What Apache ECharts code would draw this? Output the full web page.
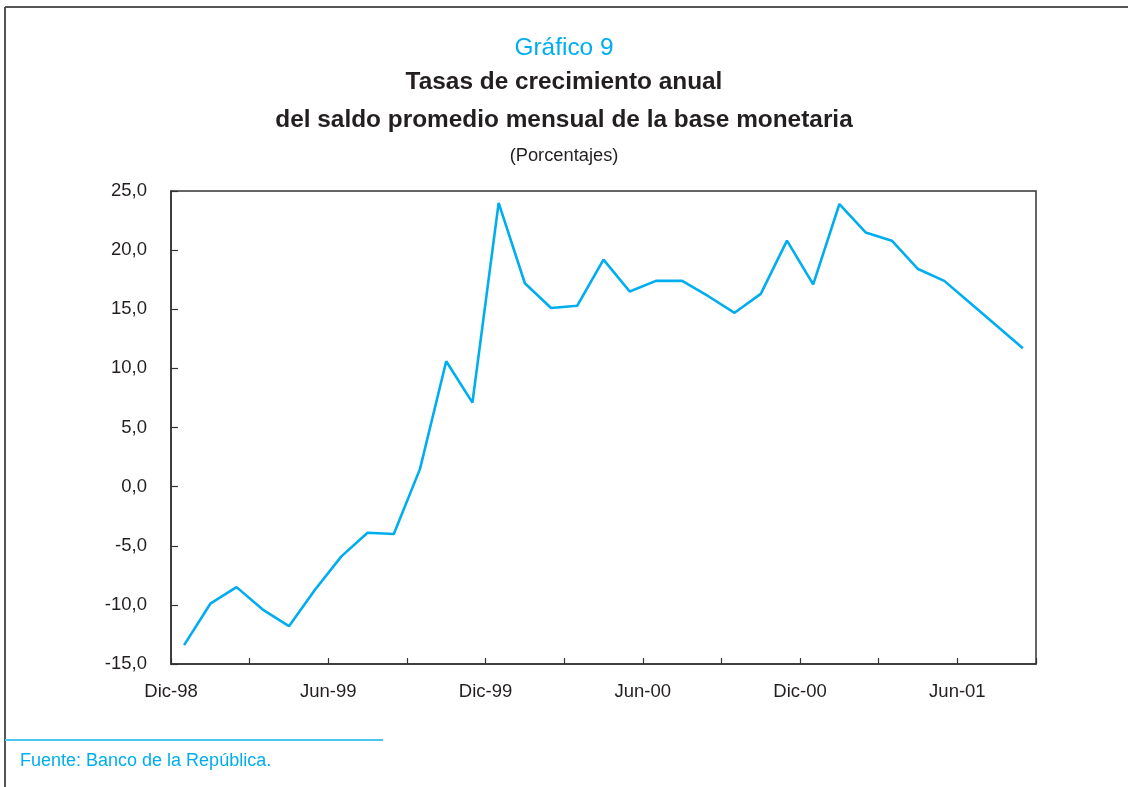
<!DOCTYPE html>
<html>
<head>
<meta charset="utf-8">
<script src="https://cdn.jsdelivr.net/npm/echarts@6/dist/echarts.min.js"></script>
<style>
html,body{margin:0;padding:0;background:#fff;}
#chart{width:1128px;height:787px;}
</style>
</head>
<body>
<div id="chart"></div>
<script>
// Months (Dic-98 .. Ago-01)
const months = ['Dic-98','Ene-99','Feb-99','Mar-99','Abr-99','May-99','Jun-99','Jul-99','Ago-99','Sep-99','Oct-99','Nov-99',
  'Dic-99','Ene-00','Feb-00','Mar-00','Abr-00','May-00','Jun-00','Jul-00','Ago-00','Sep-00','Oct-00','Nov-00',
  'Dic-00','Ene-01','Feb-01','Mar-01','Abr-01','May-01','Jun-01','Jul-01','Ago-01'];
// Annual growth rate of monthly average monetary base (%)
const values = [-13.4,-9.9,-8.5,-10.4,-11.8,-8.7,-5.9,-3.9,-4.0,1.5,10.6,7.1,
  24.0,17.2,15.1,15.3,19.2,16.5,17.4,17.4,16.1,14.7,16.3,20.8,
  17.1,23.9,21.5,20.8,18.4,17.4,15.5,13.6,11.7];
const yTicks = [-15,-10,-5,0,5,10,15,20,25];

const FONT = "'Liberation Sans', Arial, Helvetica, sans-serif";
const CYAN = '#00aeef';
const DARK = '#231f20';

const chart = echarts.init(document.getElementById('chart'), null, {renderer:'canvas'});
chart.setOption({
  animation:false,
  backgroundColor:'#ffffff',
  textStyle:{fontFamily:FONT},
  title:[
    {text:'Gráfico 9', left:'center', top:31, textStyle:{fontFamily:FONT, fontSize:24.4, fontWeight:'normal', color:CYAN, lineHeight:24}},
    {text:'Tasas de crecimiento anual', left:'center', top:65, textStyle:{fontFamily:FONT, fontSize:24.4, fontWeight:'bold', color:DARK, lineHeight:24}},
    {text:'del saldo promedio mensual de la base monetaria', left:'center', top:103, textStyle:{fontFamily:FONT, fontSize:24.4, fontWeight:'bold', color:DARK, lineHeight:24}},
    {text:'(Porcentajes)', left:'center', top:142, textStyle:{fontFamily:FONT, fontSize:18.3, fontWeight:'normal', color:DARK, lineHeight:18}}
  ],
  grid:{left:171, right:92, top:191, bottom:123, show:true, borderColor:'#333', borderWidth:1.5, backgroundColor:'transparent'},
  xAxis:{
    type:'category',
    data:months,
    boundaryGap:true,
    axisLine:{show:true, onZero:false, lineStyle:{color:'#333', width:1.5}},
    axisTick:{show:true, inside:true, length:6, interval:2, lineStyle:{color:'#333', width:1.2}},
    axisLabel:{interval:5, margin:18, fontFamily:FONT, fontSize:18.5, color:DARK, padding:[0,26.2,0,0], align:'center'},
    splitLine:{show:false}
  },
  yAxis:{
    type:'value',
    min:yTicks[0], max:yTicks[yTicks.length-1], interval:5,
    axisLine:{show:true, lineStyle:{color:'#333', width:1.5}},
    axisTick:{show:true, inside:true, length:7, lineStyle:{color:'#333', width:1.2}},
    axisLabel:{margin:24, fontFamily:FONT, fontSize:18.5, color:DARK, formatter:v=>v.toFixed(1).replace('.',',')},
    splitLine:{show:false}
  },
  series:[{
    type:'line',
    data:values,
    symbol:'none',
    lineStyle:{color:CYAN, width:2.6},
    itemStyle:{color:CYAN}
  }],
  graphic:[
    {type:'line', shape:{x1:5, y1:7, x2:1128, y2:7}, style:{stroke:'#555', lineWidth:2}},
    {type:'line', shape:{x1:5, y1:7, x2:5, y2:787}, style:{stroke:'#555', lineWidth:2}},
    {type:'line', shape:{x1:5, y1:740, x2:383, y2:740}, style:{stroke:'#4cc6f0', lineWidth:2}},
    {type:'text', left:20, top:752, style:{text:'Fuente: Banco de la República.', font:"18px 'Liberation Sans', Arial, sans-serif", fill:CYAN}}
  ]
});
</script>
</body>
</html>
